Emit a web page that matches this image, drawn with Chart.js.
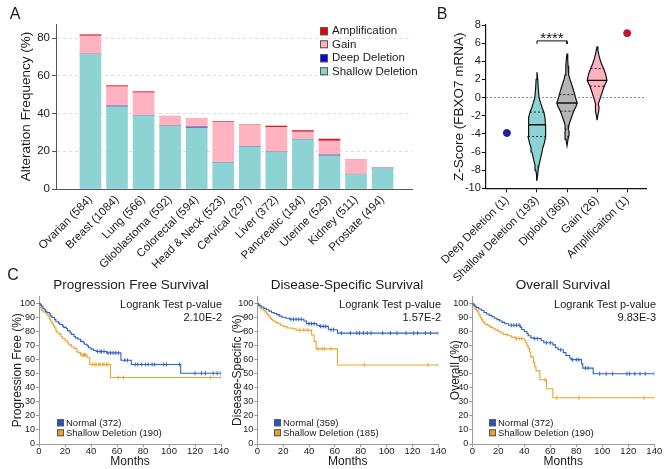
<!DOCTYPE html>
<html lang="en">
<head>
  <meta charset="UTF-8">
  <title>FBXO7 copy number alterations and survival</title>
  <script src="https://cdn.jsdelivr.net/npm/chart.js"></script>
  <style>
    body { margin: 0; background: #fff; font-family: 'Liberation Sans', Arial, sans-serif; color: #1a1a1a; }
    #figure { position: relative; width: 666px; height: 469px; overflow: hidden; }
    #figure canvas { position: absolute; }
    .txt { position: absolute; white-space: nowrap; line-height: 1; transform: translate(-50%, -50%); }
    .right { transform: translate(-100%, -50%); }
    .panel { font-size: 16px; }
    .km-title { font-size: 13.5px; }
    .logrank { font-size: 11px; }
    .leg { position: absolute; display: flex; align-items: center; white-space: nowrap; line-height: 1; transform: translate(0, -50%); }
    .leg i { display: inline-block; border: 1px solid #555; box-sizing: border-box; }
  </style>
</head>
<body>
<div id="figure">
  <canvas id="chartA" width="436" height="276" style="left:0;top:0"></canvas>
  <canvas id="chartB" width="230" height="292" style="left:436px;top:0"></canvas>
  <canvas id="km1" width="232" height="179" style="left:0;top:290px"></canvas>
  <canvas id="km2" width="224" height="179" style="left:226px;top:290px"></canvas>
  <canvas id="km3" width="218" height="179" style="left:448px;top:290px"></canvas>

  <div class="txt panel" style="left:15px;top:13.5px">A</div>
  <div class="txt panel" style="left:442px;top:13.5px">B</div>
  <div class="txt panel" style="left:13px;top:275px">C</div>

  <div class="leg" style="left:320px;top:31px;font-size:11.5px"><i style="width:8px;height:8px;background:#e60000;margin-right:4px"></i>Amplification</div>
  <div class="leg" style="left:320px;top:44.5px;font-size:11.5px"><i style="width:8px;height:8px;background:#ffb3c0;margin-right:4px"></i>Gain</div>
  <div class="leg" style="left:320px;top:58px;font-size:11.5px"><i style="width:8px;height:8px;background:#0000e0;margin-right:4px"></i>Deep Deletion</div>
  <div class="leg" style="left:320px;top:71.5px;font-size:11.5px"><i style="width:8px;height:8px;background:#8dd3d3;margin-right:4px"></i>Shallow Deletion</div>

  <div class="txt km-title" style="left:131px;top:285px">Progression Free Survival</div>
  <div class="txt km-title" style="left:347px;top:285px">Disease-Specific Survival</div>
  <div class="txt km-title" style="left:563px;top:285px">Overall Survival</div>

  <div class="txt logrank right" style="left:222px;top:303.5px">Logrank Test p-value</div>
  <div class="txt logrank right" style="left:222px;top:317px">2.10E-2</div>
  <div class="txt logrank right" style="left:441px;top:303.5px">Logrank Test p-value</div>
  <div class="txt logrank right" style="left:441px;top:317px">1.57E-2</div>
  <div class="txt logrank right" style="left:656px;top:303.5px">Logrank Test p-value</div>
  <div class="txt logrank right" style="left:656px;top:317px">9.83E-3</div>

  <div class="leg" style="left:57px;top:423px;font-size:9.5px"><i style="width:7px;height:7px;background:#2456c8;margin-right:2px"></i>Normal (372)</div>
  <div class="leg" style="left:57px;top:433px;font-size:9.5px"><i style="width:7px;height:7px;background:#f0a028;margin-right:2px"></i>Shallow Deletion (190)</div>
  <div class="leg" style="left:274px;top:422.5px;font-size:9.5px"><i style="width:7px;height:7px;background:#2456c8;margin-right:2px"></i>Normal (359)</div>
  <div class="leg" style="left:274px;top:433px;font-size:9.5px"><i style="width:7px;height:7px;background:#f0a028;margin-right:2px"></i>Shallow Deletion (185)</div>
  <div class="leg" style="left:489px;top:422.5px;font-size:9.5px"><i style="width:7px;height:7px;background:#2456c8;margin-right:2px"></i>Normal (372)</div>
  <div class="leg" style="left:489px;top:433px;font-size:9.5px"><i style="width:7px;height:7px;background:#f0a028;margin-right:2px"></i>Shallow Deletion (190)</div>
</div>

<script>
  // ---- A: alteration frequency by cancer type (%)
  const cancerTypes = ['Ovarian (584)', 'Breast (1084)', 'Lung (566)', 'Glioblastoma (592)', 'Colorectal (594)',
    'Head & Neck (523)', 'Cervical (297)', 'Liver (372)', 'Pancreatic (184)', 'Uterine (529)', 'Kidney (511)', 'Prostate (494)'];
  const shallowDel = [71.5, 43.7, 38.9, 33.4, 32.5, 14.0, 22.4, 19.6, 26.2, 17.7, 7.8, 11.0];
  const deepDel    = [0, 0.3, 0, 0, 0.4, 0, 0, 0, 0, 0.3, 0, 0];
  const gain       = [9.7, 10.3, 12.2, 5.2, 4.6, 21.6, 11.7, 13.1, 4.1, 7.5, 7.6, 0.4];
  const amplif     = [0.6, 0.5, 0.5, 0, 0, 0.3, 0, 0.7, 0.7, 1.0, 0, 0];
  const freqTicks  = [0, 20, 40, 60, 80];

  // ---- B: FBXO7 mRNA z-score by copy number group
  const cnaGroups = ['Deep Deletion (1)', 'Shallow Deletion (193)', 'Diploid (369)', 'Gain (26)', 'Amplificaiton (1)'];
  const zTicks = [-10, -8, -6, -4, -2, 0, 2, 4, 6, 8];
  // violin outlines: z levels and relative density (1 = widest)
  const shallowZ = [2.8, 2, 1, 0, -0.7, -1.2, -1.6, -2.2, -3, -3.6, -4.3, -5, -5.5, -6, -6.5, -7, -7.5, -8, -8.5, -9.1];
  const shallowW = [0, 0.08, 0.13, 0.21, 0.39, 0.53, 0.68, 0.78, 0.84, 0.83, 0.87, 0.73, 0.58, 0.49, 0.39, 0.29, 0.19, 0.12, 0.07, 0];
  const diploidZ = [4.85, 4.2, 3.5, 3, 2.5, 2, 1.5, 1, 0.5, 0, -0.6, -1, -1.5, -2, -2.5, -3, -3.5, -3.8, -4.2, -4.6, -5.3];
  const diploidW = [0, 0.07, 0.1, 0.13, 0.19, 0.29, 0.44, 0.58, 0.71, 0.83, 1, 0.87, 0.65, 0.49, 0.34, 0.19, 0.12, 0.21, 0.19, 0.1, 0];
  const gainZ = [5.65, 5.2, 4.7, 4.2, 3.7, 3.2, 2.6, 1.9, 1.25, 0.7, 0.2, -0.3, -0.7, -1.1, -1.5, -2, -2.5];
  const gainW = [0, 0.08, 0.17, 0.29, 0.44, 0.63, 0.83, 0.97, 0.7, 0.53, 0.39, 0.24, 0.12, 0.19, 0.16, 0.07, 0];
  // quartiles [Q1, median, Q3]
  const shallowQ = [-4.3, -3.0, -1.6];
  const diploidQ = [-1.5, -0.6, 0.33];
  const gainQ    = [1.25, 1.9, 3.2];
  const singleSamples = [[0, -3.9], [4, 7.1]];
  const sigMark = { from: 1, to: 2, z: 6.25, text: '****' };

  // ---- C: Kaplan-Meier curves [month, %]
  const monthTicks = [0, 20, 40, 60, 80, 100, 120, 140];
  const pctTicks = [0, 10, 20, 30, 40, 50, 60, 70, 80, 90, 100];

  const pfsNormal = [[0,100],[1,99],[2,98],[3,96.5],[4,95.5],[5,94.5],[6,93.5],[8,92.5],[9,91],[10,90],[12,88.5],[13,87],[15,86],[16,85],
    [18,84],[19,83],[21,82],[22,80.5],[24,79],[25,78],[27,76.5],[28,75.5],[30,74.5],[32,73],[34,72],[35,71],[37,70],[38,68.5],[40,67.5],
    [42,66.5],[44,65.8],[52,64.8],[63,59.6],[71,56.6],[109,50.3],[140,50.3]];
  const pfsNormalCens = [45, 47, 48, 50, 53, 55, 57, 59, 61, 66, 68, 74, 76, 79, 82, 84, 87, 89, 96, 98, 108, 120, 125, 128, 134, 137, 140];
  const pfsShallow = [[0,100],[1,97],[2,95],[3,94],[5,93],[6,92],[7,90.5],[8,89],[9,87.5],[10,86],[11,84],[12,82.5],[13,80.5],[14,79],
    [16,78],[17,76.5],[18,75],[20,73.5],[22,72],[23,70.5],[25,69],[27,68],[29,66],[30,65],[32,63.3],[37,61.4],[39,56.6],[55,47.3],[140,47.3]];
  const pfsShallowCens = [33, 34, 35, 36, 41, 43, 44, 46, 47, 49, 50, 52, 53, 61, 65, 132, 140];

  const dssNormal = [[0,100],[1,99],[2,98.5],[3,97.5],[5,96.5],[7,95.5],[9,94.5],[11,93.5],[13,92.8],[15,92],[17,91],[19,90.2],[22,89.5],
    [25,88.7],[36,87.5],[38,85.6],[46,84.5],[48,83.7],[55,81.3],[62,78.9],[140,78.9]];
  const dssNormalCens = [26, 28, 30, 32, 34, 40, 42, 44, 49, 51, 53, 57, 59, 65, 72, 77, 79, 82, 85, 88, 97, 103, 108, 115, 121, 124, 130, 134, 140];
  const dssShallow = [[0,100],[1,98],[2,97],[3,96],[5,95],[6,94],[7,93],[8,92],[9,90.5],[10,89.5],[11,88.5],[12,87.5],[14,86.4],[16,85.5],
    [18,84.5],[20,83.5],[23,82.5],[27,82],[30,81],[42,77.5],[44,73],[45.5,67.7],[62,56.2],[140,56.2]];
  const dssShallowCens = [33, 36, 39, 47, 50, 52, 57, 83, 132, 140];

  const osNormal = [[0,100],[1,99],[2,98],[3,97],[5,96],[7,95],[9,93.5],[11,92.5],[13,91.5],[15,90.5],[17,89.5],[19,88.5],[21,87.5],
    [23,86.5],[25,85.5],[28,84.5],[37,83],[38,81.5],[40,80],[42,78.5],[43,77],[45,75.5],[47,75],[53,73.5],[55,72],[62,70.5],[64,68.5],
    [66,67],[70,65],[72,63],[75,61],[76,60],[84,57],[85,54],[93,50],[140,50]];
  const osNormalCens = [30, 32, 34, 36, 48, 50, 57, 60, 68, 77, 80, 82, 87, 89, 98, 103, 108, 119, 121, 125, 129, 133, 140];
  const osShallow = [[0,100],[1,98],[2,96],[3,95],[4,94],[5,92],[6,90],[7,88.5],[8,87],[9,86],[10,85],[12,84],[14,83],[16,82],[18,81],
    [20,80],[22,79],[24,78],[27,77],[30,76],[33,75],[40,74],[41,72],[42,70],[43,68],[44,65.5],[45,62],[47,58],[48,55],[49,52],[52,45.7],
    [57,39.3],[62,32.9],[140,32.9]];
  const osShallowCens = [34, 36, 38, 56, 65, 82, 132, 140];

  // ---- styling
  const TEAL = '#8dd3d3', PINK = '#ffb3c0', BLUE = '#2c5fc8', ORANGE = '#eda22a';
  Chart.defaults.font.family = "'Liberation Sans', Arial, sans-serif";
  Chart.defaults.color = '#1a1a1a';
  Chart.defaults.animation = false;
  Chart.defaults.responsive = false;
  Chart.defaults.plugins.legend.display = false;
  Chart.defaults.plugins.tooltip.enabled = false;

  const toXY = arr => arr.map((v, i) => ({ x: i, y: v }));
  const setTicks = list => s => { s.ticks = list.map(v => ({ value: v })); };

  // A
  new Chart(document.getElementById('chartA'), {
    type: 'bar',
    data: {
      datasets: [
        { label: 'Shallow Deletion', data: toXY(shallowDel), backgroundColor: TEAL },
        { label: 'Deep Deletion', data: toXY(deepDel), backgroundColor: '#2a2ad0' },
        { label: 'Gain', data: toXY(gain), backgroundColor: PINK },
        { label: 'Amplification', data: toXY(amplif), backgroundColor: '#d81e28' }
      ]
    },
    options: {
      layout: { padding: { left: 0, top: 24, right: 24, bottom: 0 } },
      datasets: { bar: { barThickness: 21 } },
      scales: {
        x: {
          type: 'linear', stacked: true, min: -0.74, max: 11.55,
          afterFit: s => { s.height = 87; },
          afterBuildTicks: s => { s.ticks = cancerTypes.map((_, i) => ({ value: i })); },
          grid: { display: false, drawTicks: false },
          border: { color: '#555' },
          ticks: { autoSkip: false, minRotation: 45, maxRotation: 45, padding: 4, font: { size: 11.5 }, callback: v => cancerTypes[v] }
        },
        y: {
          stacked: true, min: 0, max: 87.5,
          afterFit: s => { s.width = 56; },
          afterBuildTicks: setTicks(freqTicks),
          grid: { color: '#dcdcdc', tickColor: '#555', tickLength: 4 },
          border: { color: '#555', dash: [3, 3] },
          ticks: { autoSkip: false, padding: 2, font: { size: 11.5 } },
          title: { display: true, text: 'Alteration Frequency (%)', font: { size: 13.5 }, padding: { top: 18, bottom: 0 } }
        }
      }
    }
  });

  // B
  const VIOLIN_HALF = 0.34;
  const violins = [
    { g: 1, z: shallowZ, w: shallowW, q: shallowQ, fill: TEAL },
    { g: 2, z: diploidZ, w: diploidW, q: diploidQ, fill: '#b5b5b5' },
    { g: 3, z: gainZ, w: gainW, q: gainQ, fill: PINK }
  ];
  function outline(v) {
    const right = v.z.map((z, i) => ({ x: v.g + v.w[i] * VIOLIN_HALF, y: z }));
    const left = v.z.map((z, i) => ({ x: v.g - v.w[i] * VIOLIN_HALF, y: z })).reverse();
    return right.concat(left);
  }
  function widthAt(v, z) {
    for (let i = 0; i < v.z.length - 1; i++) {
      if (z <= v.z[i] && z >= v.z[i + 1]) {
        const f = (v.z[i] - z) / (v.z[i] - v.z[i + 1]);
        return v.w[i] + f * (v.w[i + 1] - v.w[i]);
      }
    }
    return 0;
  }
  const bDatasets = [];
  violins.forEach(v => {
    v.q.forEach((z, k) => {
      const hw = widthAt(v, z) * VIOLIN_HALF;
      bDatasets.push({
        data: [{ x: v.g - hw, y: z }, { x: v.g + hw, y: z }], showLine: true, pointRadius: 0, order: 0,
        borderColor: '#111', borderWidth: k === 1 ? 1.4 : 0.9, borderDash: k === 1 ? [] : [2, 2]
      });
    });
    bDatasets.push({
      data: outline(v), showLine: true, pointRadius: 0, fill: 'shape', order: 2,
      backgroundColor: v.fill, borderColor: '#111', borderWidth: 1.2
    });
  });
  bDatasets.push({
    data: singleSamples.map(p => ({ x: p[0], y: p[1] })), pointRadius: 3.5, order: 0,
    backgroundColor: ['#1f1fa8', '#c4162c'], borderColor: ['#1f1fa8', '#c4162c']
  });
  bDatasets.push({
    data: [{ x: sigMark.from, y: sigMark.z - 0.35 }, { x: sigMark.from, y: sigMark.z }, { x: sigMark.to, y: sigMark.z }, { x: sigMark.to, y: sigMark.z - 0.35 }],
    showLine: true, pointRadius: 0, borderColor: '#111', borderWidth: 1, order: 0
  });

  const sigPlugin = {
    id: 'sig',
    afterDatasetsDraw(chart) {
      const { ctx, scales: { x, y } } = chart;
      ctx.save();
      ctx.font = "15px 'Liberation Sans', Arial, sans-serif";
      ctx.fillStyle = '#111';
      ctx.textAlign = 'center';
      ctx.fillText(sigMark.text, x.getPixelForValue((sigMark.from + sigMark.to) / 2), y.getPixelForValue(sigMark.z) + 2);
      ctx.restore();
    }
  };

  new Chart(document.getElementById('chartB'), {
    type: 'scatter',
    data: { datasets: bDatasets },
    plugins: [sigPlugin],
    options: {
      layout: { padding: { left: 0, top: 25, right: 19.3, bottom: 0 } },
      scales: {
        x: {
          type: 'linear', min: -0.7, max: 4.65,
          afterFit: s => { s.height = 103.7; },
          afterBuildTicks: s => { s.ticks = cnaGroups.map((_, i) => ({ value: i })); },
          grid: { drawOnChartArea: false, tickColor: '#111', tickLength: 4 },
          border: { color: '#111', width: 1.2 },
          ticks: { autoSkip: false, minRotation: 45, maxRotation: 45, padding: 1, font: { size: 11.5 }, callback: v => cnaGroups[v] }
        },
        y: {
          min: -10, max: 8,
          afterFit: s => { s.width = 47; },
          afterBuildTicks: setTicks(zTicks),
          grid: { color: c => (c.tick && c.tick.value === 0 ? '#8a8a8a' : 'rgba(0,0,0,0)'), tickColor: '#111', tickLength: 4 },
          border: { color: '#111', width: 1.2, dash: [2, 2] },
          ticks: { autoSkip: false, padding: 1, font: { size: 11 } },
          title: { display: true, text: 'Z-Score (FBXO7 mRNA)', font: { size: 13.5 }, padding: { top: 12.5, bottom: 0 } }
        }
      }
    }
  });

  // C
  function valueAt(curve, t) {
    let v = curve[0][1];
    curve.forEach(p => { if (p[0] <= t) v = p[1]; });
    return v;
  }
  function curveSet(curve, color) {
    return { data: curve.map(p => ({ x: p[0], y: p[1] })), showLine: true, stepped: 'before', pointRadius: 0, borderColor: color, borderWidth: 1.1 };
  }
  function censorSet(curve, times, color) {
    return { data: times.map(t => ({ x: t, y: valueAt(curve, t) })), pointStyle: 'line', rotation: 90, pointRadius: 2, borderColor: color, borderWidth: 1 };
  }
  function kmChart(id, normal, normalCens, shallow, shallowCens, yTitle, box) {
    new Chart(document.getElementById(id), {
      type: 'scatter',
      data: {
        datasets: [
          curveSet(normal, BLUE), censorSet(normal, normalCens, BLUE),
          curveSet(shallow, ORANGE), censorSet(shallow, shallowCens, ORANGE)
        ]
      },
      options: {
        layout: { padding: { left: 0, top: 6, right: box.right, bottom: 0 } },
        scales: {
          x: {
            min: 0, max: 140,
            afterFit: s => { s.height = 25; },
            afterBuildTicks: setTicks(monthTicks),
            grid: { drawOnChartArea: false, tickColor: '#999', tickLength: 3 },
            border: { color: '#9a9a9a' },
            ticks: { autoSkip: false, maxRotation: 0, padding: -1, font: { size: 9.5 } },
            title: { display: true, text: 'Months', font: { size: 12 }, padding: 0 }
          },
          y: {
            min: 0, max: 105,
            afterFit: s => { s.width = box.yWidth; },
            afterBuildTicks: setTicks(pctTicks),
            grid: { drawOnChartArea: false, tickColor: '#999', tickLength: 3 },
            border: { color: '#9a9a9a' },
            ticks: { autoSkip: false, padding: 1, font: { size: 9 } },
            title: { display: true, text: yTitle, font: { size: 12 }, padding: { top: box.titlePad, bottom: 0 } }
          }
        }
      }
    });
  }
  kmChart('km1', pfsNormal, pfsNormalCens, pfsShallow, pfsShallowCens, 'Progression Free (%)', { right: 11, yWidth: 39, titlePad: 10.3 });
  kmChart('km2', dssNormal, dssNormalCens, dssShallow, dssShallowCens, 'Disease-Specific (%)', { right: 11.7, yWidth: 31.3, titlePad: 4.3 });
  kmChart('km3', osNormal, osNormalCens, osShallow, osShallowCens, 'Overall (%)', { right: 11.7, yWidth: 24.3, titlePad: 0 });
</script>
</body>
</html>
